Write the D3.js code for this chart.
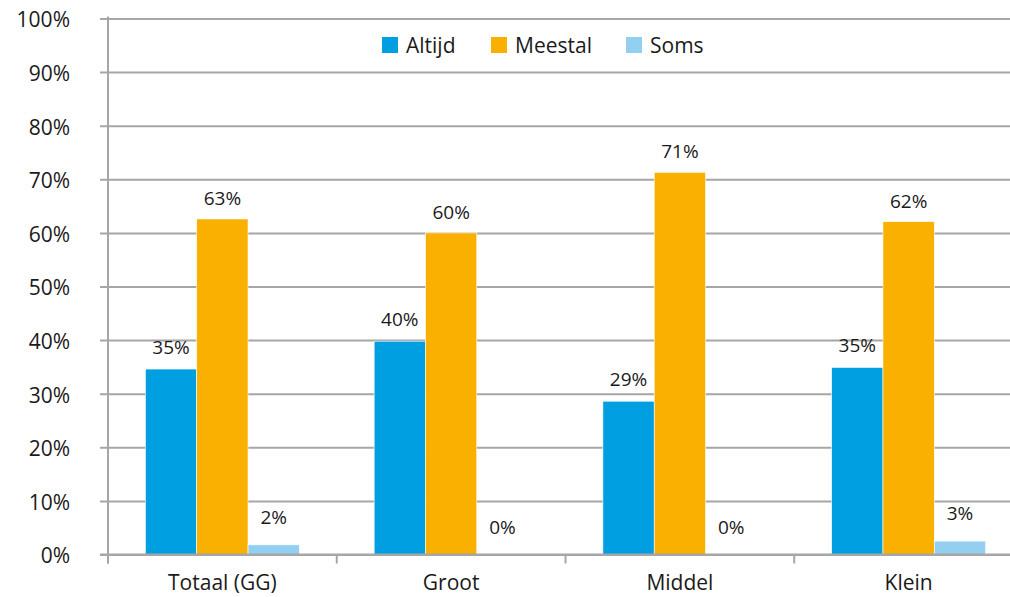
<!DOCTYPE html>
<html>
<head>
<meta charset="utf-8">
<script src="https://cdn.jsdelivr.net/npm/d3@7"></script>
<style>
    body { margin: 0; background: #fff; }
    text { font-family: "Open Sans", "Noto Sans", sans-serif; fill: #1a1a1a; }
</style>
</head>
<body>
<div id="chart"></div>
<script>
// chart data
const categories = ["Totaal (GG)", "Groot", "Middel", "Klein"];
const seriesNames = ["Altijd", "Meestal", "Soms"];
const altijd = [34.6, 39.8, 28.6, 34.9];
const meestal = [62.6, 60.0, 71.3, 62.1];
const soms = [1.8, 0, 0, 2.5];
const yTicks = [0, 10, 20, 30, 40, 50, 60, 70, 80, 90, 100];

const colors = ["#009fe1", "#f9b000", "#92cff1"];
const labelGap = [15, 14, 21];

const width = 1010;
const height = 597;
const margin = { top: 18.5, left: 108, bottom: 42.5 };

const svg = d3.select("#chart")
    .append("svg")
    .attr("width", width)
    .attr("height", height);

const y = d3.scaleLinear()
    .domain([0, 100])
    .range([height - margin.bottom, margin.top]);

const x = d3.scaleBand()
    .domain(categories)
    .range([margin.left, 1023])
    .paddingInner(0.327)
    .paddingOuter(0.1635);

const xs = d3.scaleBand()
    .domain(seriesNames)
    .range([0, x.bandwidth()]);

// gridlines + y ticks
const yAxis = d3.axisLeft(y)
    .tickValues(yTicks)
    .tickSize(-(width - margin.left))
    .tickSizeOuter(0)
    .tickPadding(38)
    .tickFormat(d => d + "%");

const gy = svg.append("g")
    .attr("transform", "translate(" + margin.left + ",0)")
    .call(yAxis);

gy.select(".domain").remove();
gy.selectAll(".tick line")
    .attr("x1", -8)
    .attr("stroke", "#a6a6a6")
    .attr("stroke-width", 2);
gy.selectAll(".tick text")
    .attr("font-size", 21)
    .attr("fill", "#1a1a1a")
    .attr("dy", "0.4em");

// bars
const table = categories.map((c, i) => ({
    cat: c,
    vals: [altijd[i], meestal[i], soms[i]]
}));

const groups = svg.append("g")
    .selectAll("g")
    .data(table)
    .join("g")
    .attr("transform", d => "translate(" + x(d.cat) + ",0)");

groups.selectAll("rect")
    .data(d => d.vals.map((v, j) => ({ name: seriesNames[j], v: v, j: j })))
    .join("rect")
    .attr("x", d => xs(d.name))
    .attr("y", d => y(d.v))
    .attr("width", xs.bandwidth())
    .attr("height", d => y(0) - y(d.v))
    .attr("fill", d => colors[d.j])
    .attr("stroke", "#fff")
    .attr("stroke-width", 0.6);

groups.selectAll("text")
    .data(d => d.vals.map((v, j) => ({ name: seriesNames[j], v: v, j: j })))
    .join("text")
    .attr("x", d => xs(d.name) + xs.bandwidth() / 2)
    .attr("y", d => y(d.v) - labelGap[d.j])
    .attr("text-anchor", "middle")
    .attr("font-size", 19)
    .text(d => Math.round(d.v) + "%");

// x axis
const xAxis = d3.axisBottom(x)
    .tickSize(0)
    .tickPadding(21);

const gx = svg.append("g")
    .attr("transform", "translate(0," + y(0) + ")")
    .call(xAxis);

gx.select(".domain")
    .attr("d", "M100,0H" + width)
    .attr("stroke", "#a6a6a6")
    .attr("stroke-width", 2);
gx.selectAll(".tick text")
    .attr("font-size", 21)
    .attr("fill", "#1a1a1a")
    .attr("dy", "0.71em");

// category separators
const sepX = categories.map(c => x(c) - x.step() * x.paddingInner() / 2);
sepX.push(x(categories[categories.length - 1]) + x.bandwidth() + x.step() * x.paddingInner() / 2);
svg.append("g")
    .selectAll("line")
    .data(sepX)
    .join("line")
    .attr("x1", d => d)
    .attr("x2", d => d)
    .attr("y1", y(0))
    .attr("y2", y(0) + 9)
    .attr("stroke", "#a6a6a6")
    .attr("stroke-width", 2);

// y axis line
svg.append("line")
    .attr("x1", margin.left)
    .attr("x2", margin.left)
    .attr("y1", y(100) - 2)
    .attr("y2", y(0) + 9)
    .attr("stroke", "#a6a6a6")
    .attr("stroke-width", 2);

// legend
const legendX = [382, 491, 626];
const legend = svg.append("g")
    .selectAll("g")
    .data(seriesNames)
    .join("g")
    .attr("transform", (d, i) => "translate(" + legendX[i] + ",37)");

legend.append("rect")
    .attr("width", 16)
    .attr("height", 16)
    .attr("fill", (d, i) => colors[i]);

legend.append("text")
    .attr("x", 24)
    .attr("y", 8)
    .attr("dy", "0.36em")
    .attr("font-size", 21)
    .text(d => d);
</script>
</body>
</html>
